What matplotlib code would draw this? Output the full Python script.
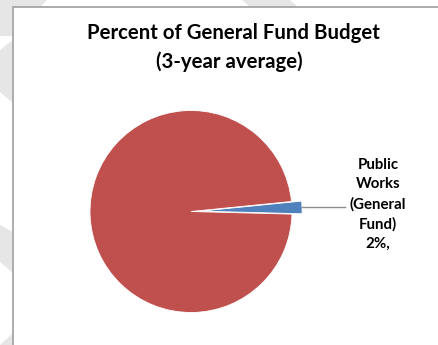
import numpy as np
import matplotlib.pyplot as plt
from matplotlib.patches import Rectangle, Polygon

# data
labels = ['Public\nWorks\n(General\nFund)\n2%,', 'Other']
shares = [2, 98]
colors = ['#4F81BD', '#C0504D']
title_lines = ['Percent of General Fund Budget', '(3-year average)']

W, H = 439, 345
fig = plt.figure(figsize=(W / 100, H / 100), dpi=100)
plt.rcParams['font.family'] = ['Lato', 'DejaVu Sans']


def px(x, y):
    # pixel coords (top-left origin) -> figure fraction
    return (x / W, 1 - y / H)


# faint watermark bits showing around the chart frame
for pts in [
    [(0, 0), (47, 0), (13, 36), (0, 36)],
    [(0, 50), (13, 40), (13, 103), (0, 92)],
    [(0, 225), (13, 232), (13, 273), (0, 262)],
    [(0, 345), (13, 333), (13, 345)],
    [(242, 0), (290, 0), (298, 7), (250, 7)],
]:
    fig.patches.append(Polygon([px(*p) for p in pts], closed=True,
                               transform=fig.transFigure, facecolor='#E6E6E6',
                               edgecolor='none', zorder=0))

# chart area frame
x0, y0 = px(13, 360)
x1, y1 = px(460, 7)
fig.patches.append(Rectangle((x0, y0), x1 - x0, y1 - y0, transform=fig.transFigure,
                             facecolor='white', edgecolor='#A6A6A6', linewidth=1.3,
                             zorder=1))

# pie axes: center (191, 211.5) px, radius 101 px, limits +-1.3
cx, cy, r = 191, 211.5, 101
span = 1.3 * r
ax = fig.add_axes([(cx - span) / W, (H - cy - span) / H, 2 * span / W, 2 * span / H])
ax.set_zorder(2)
ax.patch.set_visible(False)
explode = [0.1, 0]
wedges, _ = ax.pie(shares, colors=colors, startangle=-1.5, counterclock=True,
                   explode=explode, radius=1.0, center=(0, 0),
                   wedgeprops=dict(linewidth=0.6, edgecolor='white'))
ax.set_xlim(-1.3, 1.3)
ax.set_ylim(-1.3, 1.3)
ax.set_aspect('auto')
ax.axis('off')

# leader line from the small slice to its label
w = wedges[0]
mid = np.deg2rad((w.theta1 + w.theta2) / 2)
tip_x = w.center[0] + w.r * np.cos(mid)
tip_y = w.center[1] + w.r * np.sin(mid)
ax.plot([tip_x, 1.52], [tip_y, tip_y], color='#8C8C8C', lw=1.0, clip_on=False)

ax.text(1.85, 0.07, labels[0], ha='center', va='center', fontsize=10.8,
        fontweight='bold', linespacing=1.5, clip_on=False)

fig.text(*px(233, 33), title_lines[0], ha='center', va='center',
         fontsize=14.7, fontweight='bold', zorder=3)
fig.text(*px(229, 62), title_lines[1], ha='center', va='center',
         fontsize=14.7, fontweight='bold', zorder=3)

fig.savefig('out.png', dpi=100)
